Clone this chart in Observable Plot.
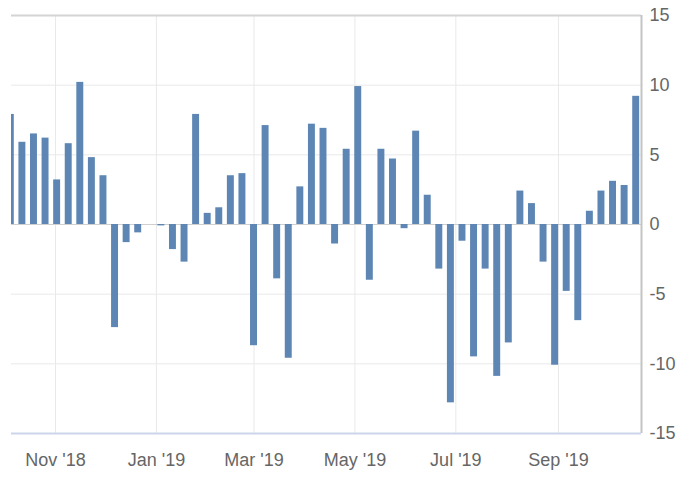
<!DOCTYPE html>
<html>
<head>
<meta charset="utf-8">
<script src="https://cdn.jsdelivr.net/npm/d3@7"></script>
<script src="https://cdn.jsdelivr.net/npm/@observablehq/plot@0.6"></script>
<style>
  html, body { margin: 0; padding: 0; background: #fff; }
  #chart svg { display: block; }
</style>
</head>
<body>
<div id="chart"></div>
<script>
// Weekly dates (week ending)
const dates = [
  "2018-10-05","2018-10-12","2018-10-19","2018-10-26",
  "2018-11-02","2018-11-09","2018-11-16","2018-11-23","2018-11-30",
  "2018-12-07","2018-12-14","2018-12-21","2018-12-28",
  "2019-01-04","2019-01-11","2019-01-18","2019-01-25",
  "2019-02-01","2019-02-08","2019-02-15","2019-02-22",
  "2019-03-01","2019-03-08","2019-03-15","2019-03-22","2019-03-29",
  "2019-04-05","2019-04-12","2019-04-19","2019-04-26",
  "2019-05-03","2019-05-10","2019-05-17","2019-05-24","2019-05-31",
  "2019-06-07","2019-06-14","2019-06-21","2019-06-28",
  "2019-07-05","2019-07-12","2019-07-19","2019-07-26",
  "2019-08-02","2019-08-09","2019-08-16","2019-08-23","2019-08-30",
  "2019-09-06","2019-09-13","2019-09-20","2019-09-27",
  "2019-10-04","2019-10-11","2019-10-18"
];
// Weekly change values
const values = [
  7.9, 5.9, 6.5, 6.2, 3.2, 5.8, 10.2, 4.8, 3.5, -7.4,
  -1.3, -0.6, 0, -0.1, -1.8, -2.7, 7.9, 0.8, 1.2, 3.5,
  3.65, -8.7, 7.1, -3.9, -9.6, 2.7, 7.2, 6.9, -1.4, 5.4,
  9.9, -4.0, 5.4, 4.7, -0.3, 6.7, 2.1, -3.2, -12.8, -1.2,
  -9.5, -3.2, -10.9, -8.5, 2.4, 1.5, -2.7, -10.1, -4.8, -6.9,
  0.95, 2.4, 3.1, 2.8, 9.2
];
// Axis ticks
const xTicks = ["2018-11-01","2019-01-01","2019-03-01","2019-05-01","2019-07-01","2019-09-01"];
const yTicks = [-15, -10, -5, 0, 5, 10, 15];

const parse = d3.utcParse("%Y-%m-%d");
const data = dates.map((d, i) => ({date: parse(d), value: values[i]}));
const xTickDates = xTicks.map(parse);
const xStart = new Date(Date.UTC(2018, 9, 5, 10));
const xEnd = new Date(Date.UTC(2019, 9, 21, 5));
const DAY = 864e5;
const half = 2.1 * DAY;

const chart = Plot.plot({
  width: 684,
  height: 486,
  marginLeft: 11,
  marginRight: 43,
  marginTop: 15,
  marginBottom: 53,
  style: {fontFamily: "'Liberation Sans', Arial, sans-serif", fontSize: "18px", color: "#666", background: "#fff"},
  x: {type: "utc", domain: [xStart, xEnd], ticks: xTickDates, tickFormat: d3.utcFormat("%b '%y"), tickSize: 0, tickPadding: 20, label: null},
  y: {domain: [-15, 15], ticks: yTicks, tickFormat: d => String(d), tickSize: 0, tickPadding: 8, label: null, axis: "right"},
  marks: [
    Plot.gridY(yTicks, {stroke: "#e9e9e9", strokeOpacity: 1}),
    Plot.gridX(xTickDates, {stroke: "#e9e9e9", strokeOpacity: 1}),
    Plot.ruleY([0], {stroke: "#cfcfcf"}),
    Plot.rectY(data, {
      x1: d => new Date(+d.date - half),
      x2: d => new Date(+d.date + half),
      y: "value",
      fill: "#5d86b4",
      clip: true
    }),
    Plot.ruleY([15], {stroke: "#d4d4d4", strokeWidth: 2}),
    Plot.ruleX([xEnd], {stroke: "#c4c4c4", strokeWidth: 2}),
    Plot.ruleY([-15], {stroke: "#ccd6eb", strokeWidth: 2})
  ]
});
document.getElementById("chart").appendChild(chart);
</script>
</body>
</html>
